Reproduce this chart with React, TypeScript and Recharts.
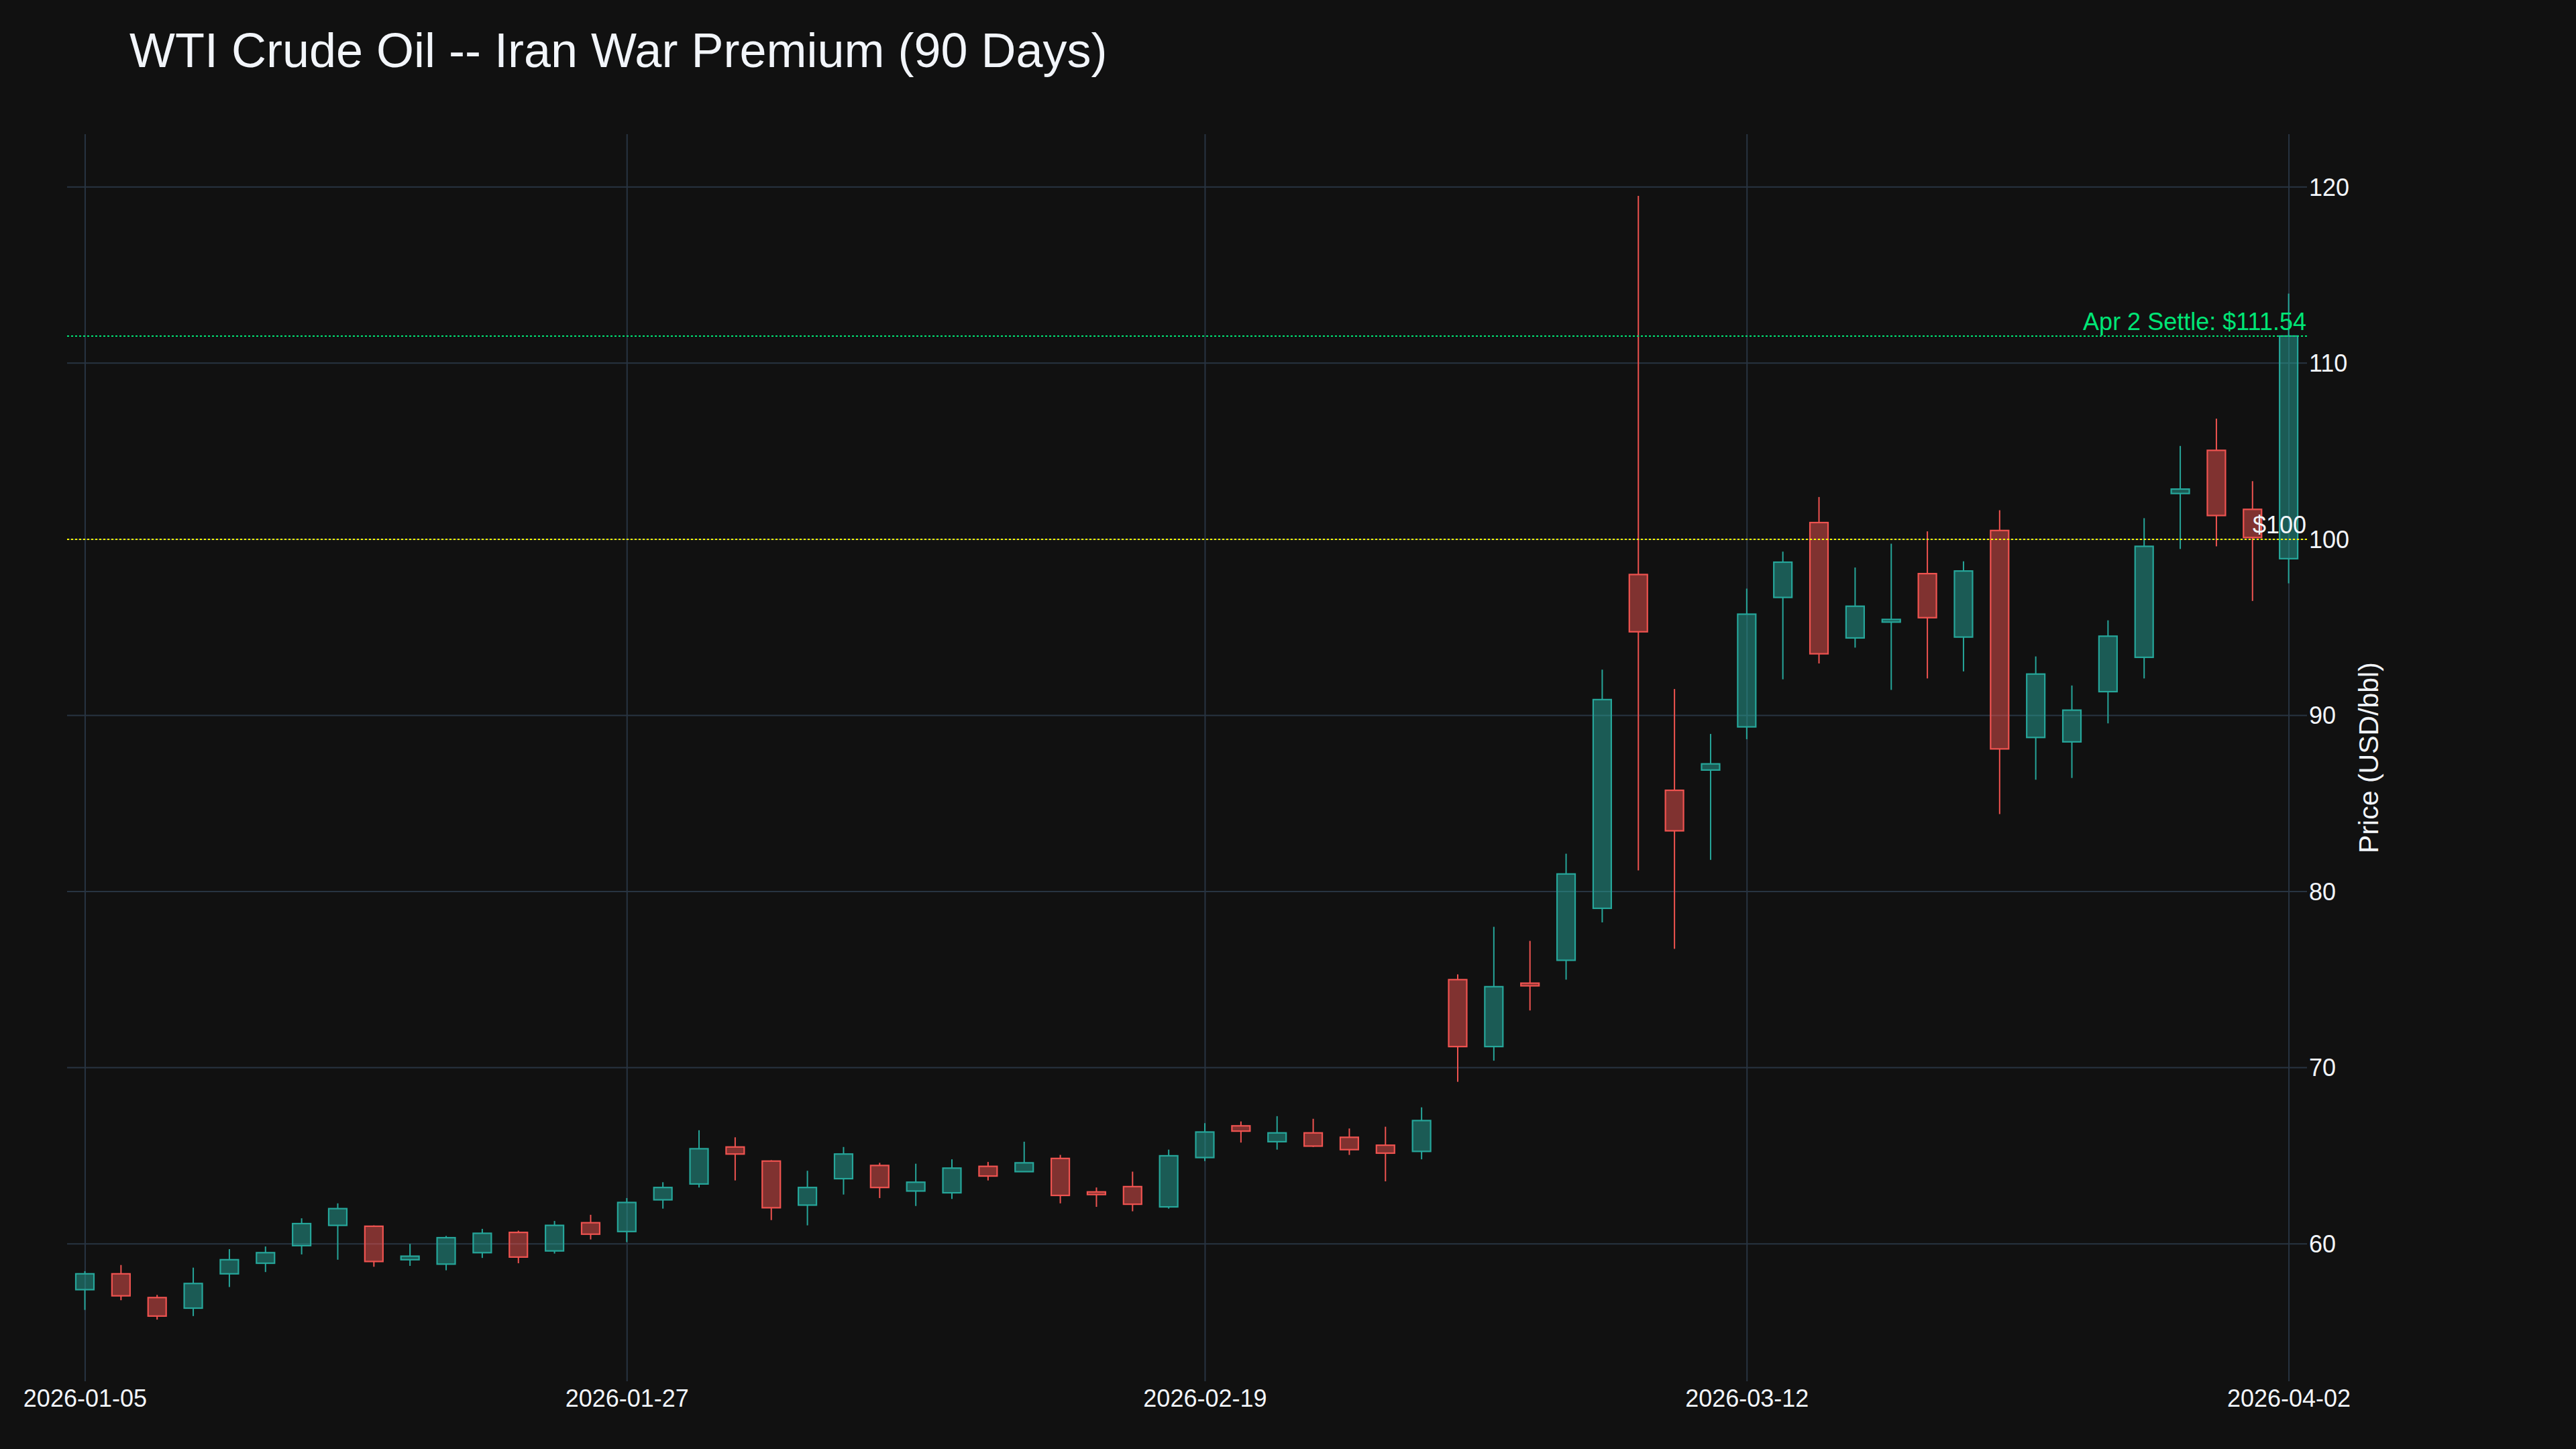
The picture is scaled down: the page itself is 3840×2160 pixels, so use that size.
import { ComposedChart, Bar, XAxis, YAxis, CartesianGrid, ReferenceLine } from 'recharts'

// trading days shown on the chart (US market holidays Jan 19 / Feb 16 skipped)
const DATES = [
  '2026-01-05', '2026-01-06', '2026-01-07', '2026-01-08', '2026-01-09',
  '2026-01-12', '2026-01-13', '2026-01-14', '2026-01-15', '2026-01-16',
  '2026-01-20', '2026-01-21', '2026-01-22', '2026-01-23',
  '2026-01-26', '2026-01-27', '2026-01-28', '2026-01-29', '2026-01-30',
  '2026-02-02', '2026-02-03', '2026-02-04', '2026-02-05', '2026-02-06',
  '2026-02-09', '2026-02-10', '2026-02-11', '2026-02-12', '2026-02-13',
  '2026-02-17', '2026-02-18', '2026-02-19', '2026-02-20',
  '2026-02-23', '2026-02-24', '2026-02-25', '2026-02-26', '2026-02-27',
  '2026-03-02', '2026-03-03', '2026-03-04', '2026-03-05', '2026-03-06',
  '2026-03-09', '2026-03-10', '2026-03-11', '2026-03-12', '2026-03-13',
  '2026-03-16', '2026-03-17', '2026-03-18', '2026-03-19', '2026-03-20',
  '2026-03-23', '2026-03-24', '2026-03-25', '2026-03-26', '2026-03-27',
  '2026-03-30', '2026-03-31', '2026-04-01', '2026-04-02',
]

const OPEN = [
  57.4, 58.3, 56.95, 56.35, 58.3, 58.9, 59.9, 61.05, 61.0, 59.1,
  58.85, 59.5, 60.65, 59.6, 61.2, 60.7, 62.5, 63.4, 65.5, 64.7,
  62.2, 63.7, 64.45, 63.0, 62.9, 64.4, 64.1, 64.85, 62.95, 63.25,
  62.1, 64.9, 66.7, 65.8, 66.3, 66.05, 65.6, 65.25, 75.0, 71.2,
  74.8, 76.1, 79.05, 98.0, 85.75, 86.9, 89.35, 96.7, 100.95, 94.4,
  95.3, 98.05, 94.45, 100.5, 88.75, 88.5, 91.35, 93.3, 102.6, 105.05,
  101.7, 98.9,
]
const HIGH = [
  58.45, 58.8, 57.1, 58.65, 59.7, 59.85, 61.45, 62.3, 61.05, 60.0,
  60.45, 60.85, 60.75, 61.3, 61.65, 62.6, 63.5, 66.45, 66.05, 64.75,
  64.15, 65.5, 64.6, 64.55, 64.8, 64.65, 65.8, 65.05, 63.2, 64.1,
  65.35, 66.85, 66.95, 67.25, 67.1, 66.55, 66.65, 67.75, 75.3, 78.0,
  77.2, 82.15, 92.6, 119.5, 91.5, 88.95, 97.2, 99.3, 102.4, 98.4,
  99.75, 100.45, 98.75, 101.65, 93.35, 91.7, 95.4, 101.2, 105.3, 106.85,
  103.3, 113.95,
]
const LOW = [
  56.25, 56.8, 55.7, 55.9, 57.55, 58.4, 59.4, 59.1, 58.7, 58.75,
  58.5, 59.2, 58.9, 59.45, 60.25, 60.1, 62.0, 63.2, 63.6, 61.35,
  61.05, 62.8, 62.6, 62.15, 62.55, 63.6, 64.1, 62.3, 62.1, 61.85,
  62.0, 64.7, 65.75, 65.35, 65.5, 65.05, 63.55, 64.8, 69.2, 70.4,
  73.25, 75.0, 78.25, 81.2, 76.75, 81.8, 88.65, 92.05, 92.95, 93.85,
  91.45, 92.1, 92.5, 84.4, 86.35, 86.45, 89.55, 92.1, 99.45, 99.6,
  96.5, 97.5,
]
const CLOSE = [
  58.3, 57.05, 55.9, 57.75, 59.1, 59.5, 61.15, 62.0, 59.0, 59.3,
  60.35, 60.6, 59.25, 61.05, 60.55, 62.35, 63.2, 65.4, 65.1, 62.05,
  63.2, 65.1, 63.2, 63.5, 64.3, 63.85, 64.6, 62.75, 62.8, 62.25,
  65.0, 66.35, 66.4, 66.3, 65.55, 65.35, 65.15, 67.0, 71.2, 74.6,
  74.65, 81.0, 90.9, 94.75, 83.45, 87.25, 95.75, 98.7, 93.5, 96.2,
  95.45, 95.55, 98.2, 88.1, 92.35, 90.3, 94.5, 99.6, 102.85, 101.35,
  100.1, 111.54,
]

const X_TICKS = ['2026-01-05', '2026-01-27', '2026-02-19', '2026-03-12', '2026-04-02']
const Y_TICKS = [60, 70, 80, 90, 100, 110, 120]
const SETTLE = 111.54
const LEVEL_100 = 100

const BG = '#111111'
const TEXT = '#f2f5fa'
const GRID = '#283442'
const UP = '#26a69a'
const DOWN = '#ef5350'
const SETTLE_COLOR = '#00e676'
const LEVEL_COLOR = '#ffff00'
const FONT = '"Liberation Sans", Arial, sans-serif'

const data = DATES.map((date, i) => ({
  date,
  open: OPEN[i],
  high: HIGH[i],
  low: LOW[i],
  close: CLOSE[i],
  range: [LOW[i], HIGH[i]],
}))

// candle drawn inside the [low, high] bar rect the library gives us
function Candle(props: any) {
  const { x, y, width, height, payload } = props
  if (!payload || height == null) return null
  const { open, close, high, low } = payload
  const up = close >= open
  const color = up ? UP : DOWN
  const k = high > low ? height / (high - low) : 0
  const cx = x + width / 2
  const top = y + (high - Math.max(open, close)) * k
  const bottom = y + (high - Math.min(open, close)) * k
  const bodyH = Math.max(bottom - top, 1)
  return (
    <g>
      <line x1={cx} x2={cx} y1={y} y2={top} stroke={color} strokeWidth={2} />
      <line x1={cx} x2={cx} y1={top + bodyH} y2={y + height} stroke={color} strokeWidth={2} />
      <rect
        x={x}
        y={top}
        width={width}
        height={bodyH}
        fill={color}
        fillOpacity={0.5}
        stroke={color}
        strokeWidth={2.2}
      />
    </g>
  )
}

function LineLabel({ viewBox, text, color }: any) {
  if (!viewBox) return null
  return (
    <text
      x={viewBox.x + viewBox.width - 1}
      y={viewBox.y - 9}
      textAnchor="end"
      fill={color}
      fontSize={36}
      fontFamily={FONT}
    >
      {text}
    </text>
  )
}

export default function App() {
  return (
    <div
      style={{
        position: 'absolute',
        left: 0,
        top: 0,
        width: 3840,
        height: 2160,
        background: BG,
        fontFamily: FONT,
        overflow: 'hidden',
      }}
    >
      <div
        style={{
          position: 'absolute',
          left: 193,
          top: 39,
          fontSize: 72,
          lineHeight: '72px',
          color: TEXT,
          whiteSpace: 'nowrap',
        }}
      >
        WTI Crude Oil -- Iran War Premium (90 Days)
      </div>
      <ComposedChart
        width={3840}
        height={2160}
        data={data}
        margin={{ top: 200, right: 219, bottom: 41, left: 100 }}
      >
        <CartesianGrid stroke={GRID} strokeWidth={2} syncWithTicks />
        <XAxis
          dataKey="date"
          ticks={X_TICKS}
          interval={0}
          tickLine={false}
          axisLine={false}
          tickSize={0}
          tickMargin={12}
          height={60}
          tick={{ fill: TEXT, fontSize: 36 }}
        />
        <YAxis
          orientation="right"
          type="number"
          domain={[52.2, 123]}
          allowDataOverflow
          ticks={Y_TICKS}
          tickLine={false}
          axisLine={false}
          tickSize={0}
          tickMargin={3}
          width={182}
          tick={{ fill: TEXT, fontSize: 36 }}
          label={{ value: 'Price (USD/bbl)', angle: -90, position: 'center', fill: TEXT, fontSize: 41 }}
        />
        <Bar dataKey="range" barSize={27} shape={<Candle />} isAnimationActive={false} />
        <ReferenceLine
          y={SETTLE}
          stroke={SETTLE_COLOR}
          strokeWidth={2}
          strokeDasharray="3 3"
          label={<LineLabel text={`Apr 2 Settle: $${SETTLE.toFixed(2)}`} color={SETTLE_COLOR} />}
        />
        <ReferenceLine
          y={LEVEL_100}
          stroke={LEVEL_COLOR}
          strokeWidth={2}
          strokeDasharray="3 3"
          label={<LineLabel text={`$${LEVEL_100}`} color={TEXT} />}
        />
      </ComposedChart>
    </div>
  )
}
